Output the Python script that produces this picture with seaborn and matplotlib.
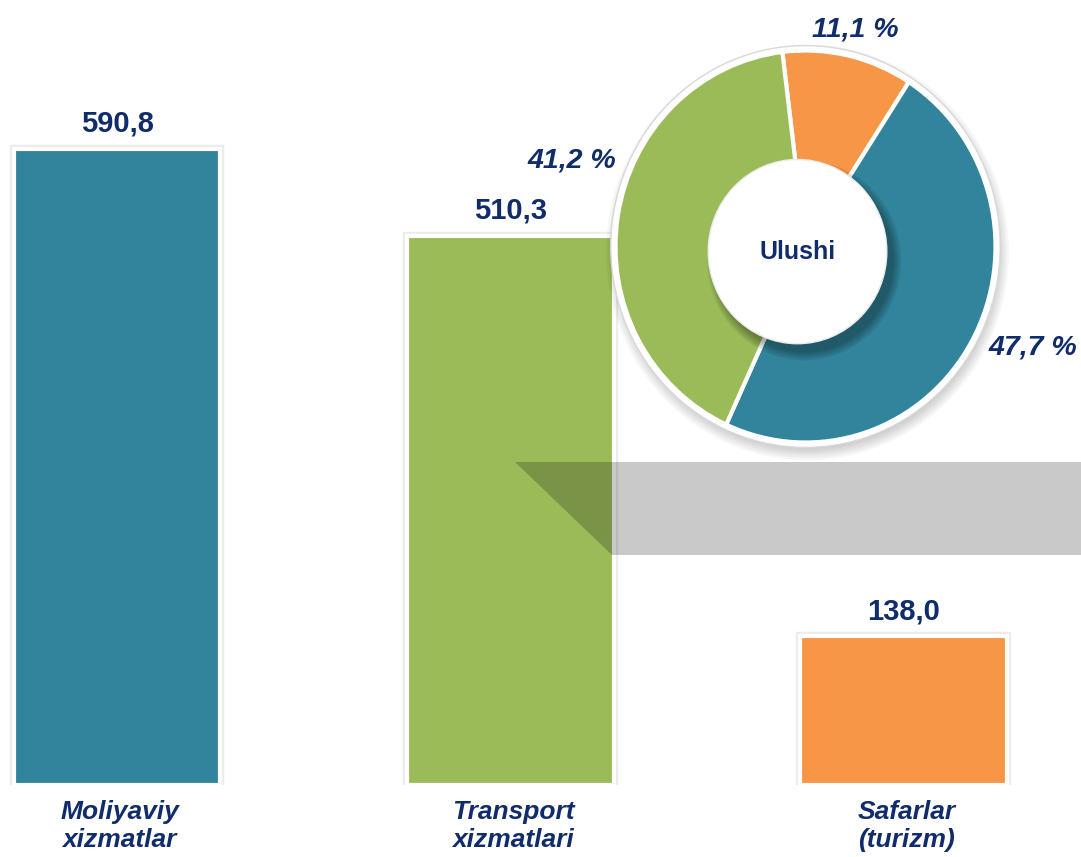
import matplotlib
matplotlib.use("Agg")
import matplotlib.pyplot as plt
import matplotlib.patheffects as pe
from matplotlib.patches import Circle, Polygon
import pandas as pd
import seaborn as sns

# ---- data ----
categories = ["Moliyaviy\nxizmatlar", "Transport\nxizmatlari", "Safarlar\n(turizm)"]
volumes = [590.8, 510.3, 138.0]
bar_colors = ["#31849B", "#9BBB59", "#F79646"]

share_labels = ["Safarlar", "Moliyaviy", "Transport"]
shares = [11.1, 47.7, 41.2]
share_colors = ["#F79646", "#31849B", "#9BBB59"]
center_text = "Ulushi"

NAVY = "#102C6A"

sns.set_style("white")
plt.rcParams["font.family"] = ["Liberation Sans", "DejaVu Sans"]

W, H = 1081, 857
fig = plt.figure(figsize=(W / 100, H / 100), dpi=100)
fig.patch.set_facecolor("white")

# ---- bar chart (full-width axes, baseline near the bottom) ----
base_px = 785          # baseline, pixels from top
px_per_unit = 636 / 590.8
step_px = 393.5        # distance between bar centres
first_px = 117         # centre of the first bar

ax = fig.add_axes([0, 1 - base_px / H, 1, base_px / H])
df = pd.DataFrame({"cat": categories, "val": volumes})
sns.barplot(data=df, x="cat", y="val", hue="cat", palette=bar_colors,
            order=categories, hue_order=categories, width=207 / step_px,
            dodge=False, legend=False, saturation=1, ax=ax)
ax.set_xlim(-first_px / step_px, (W - first_px) / step_px)
ax.set_ylim(0, base_px / px_per_unit)
ax.set_axis_off()

for p in ax.patches:
    p.set_edgecolor("white")
    p.set_linewidth(3)
    p.set_path_effects([pe.Stroke(linewidth=6, foreground="#ececec"), pe.Normal()])

def fmt(v):
    return f"{v:.1f}".replace(".", ",")

for i, (cat, v) in enumerate(zip(categories, volumes)):
    ax.annotate(fmt(v), (i, v), xytext=(0, 8), textcoords="offset points",
                ha="center", va="bottom", fontsize=21, fontweight="bold",
                color=NAVY, annotation_clip=False)
    ax.annotate(cat, (i, 0), xytext=(2, -11), textcoords="offset points",
                ha="center", va="top", fontsize=19, fontweight="bold",
                fontstyle="italic", color=NAVY, linespacing=1.22,
                annotation_clip=False)

# translucent ribbon running from the middle bar to the right edge
def fpt(x, y):
    return (x / W, 1 - y / H)

ribbon = Polygon([fpt(515, 462), fpt(W, 462), fpt(W, 555), fpt(612, 555)],
                 closed=True, transform=fig.transFigure, facecolor="black",
                 alpha=0.21, edgecolor="none", zorder=5)
fig.patches.append(ribbon)

# ---- donut of shares ----
cx, cy = 805.5, 246.5
rx, ry = 190, 196
lim = 1.1
pax = fig.add_axes([(cx - lim * rx) / W, 1 - (cy + lim * ry) / H,
                    2 * lim * rx / W, 2 * lim * ry / H], zorder=6)
pax.set_facecolor("none")

# soft drop shadow under the ring
for k in range(6):
    pax.add_patch(Circle((0.01, -0.03), 1.0 + 0.012 * k, facecolor="black",
                         alpha=0.035, edgecolor="none", zorder=0))
pax.add_patch(Circle((0, 0), 1.025, facecolor="white", edgecolor="#d8d8d8",
                     linewidth=1.0, zorder=1))

wedges, _ = pax.pie(shares, colors=share_colors, startangle=97,
                    counterclock=False, radius=1.0,
                    wedgeprops=dict(edgecolor="white", linewidth=3, zorder=2))
pax.set_aspect("auto")
pax.set_xlim(-lim, lim)
pax.set_ylim(-lim, lim)
pax.set_axis_off()

# hub with shadow
hx, hy, hr = -0.042, -0.026, 0.47
for k in range(5):
    pax.add_patch(Circle((hx + 0.035, hy - 0.045), hr + 0.01 * k,
                         facecolor="black", alpha=0.07, edgecolor="none",
                         zorder=3))
pax.add_patch(Circle((hx, hy), hr, facecolor="white", edgecolor="#ececec",
                     linewidth=1, zorder=4))
pax.text(hx, hy, center_text, ha="center", va="center", fontsize=18,
         fontweight="bold", color=NAVY, zorder=5)

label_pos = [(0.26, 1.105), (1.197, -0.513), (-1.229, 0.441)]
for s, (lx, ly) in zip(shares, label_pos):
    pax.text(lx, ly, f"{fmt(s)} %", ha="center", va="center", fontsize=20.5,
             fontweight="bold", fontstyle="italic", color=NAVY, zorder=5)

fig.savefig("out.png", dpi=100, facecolor="white")
